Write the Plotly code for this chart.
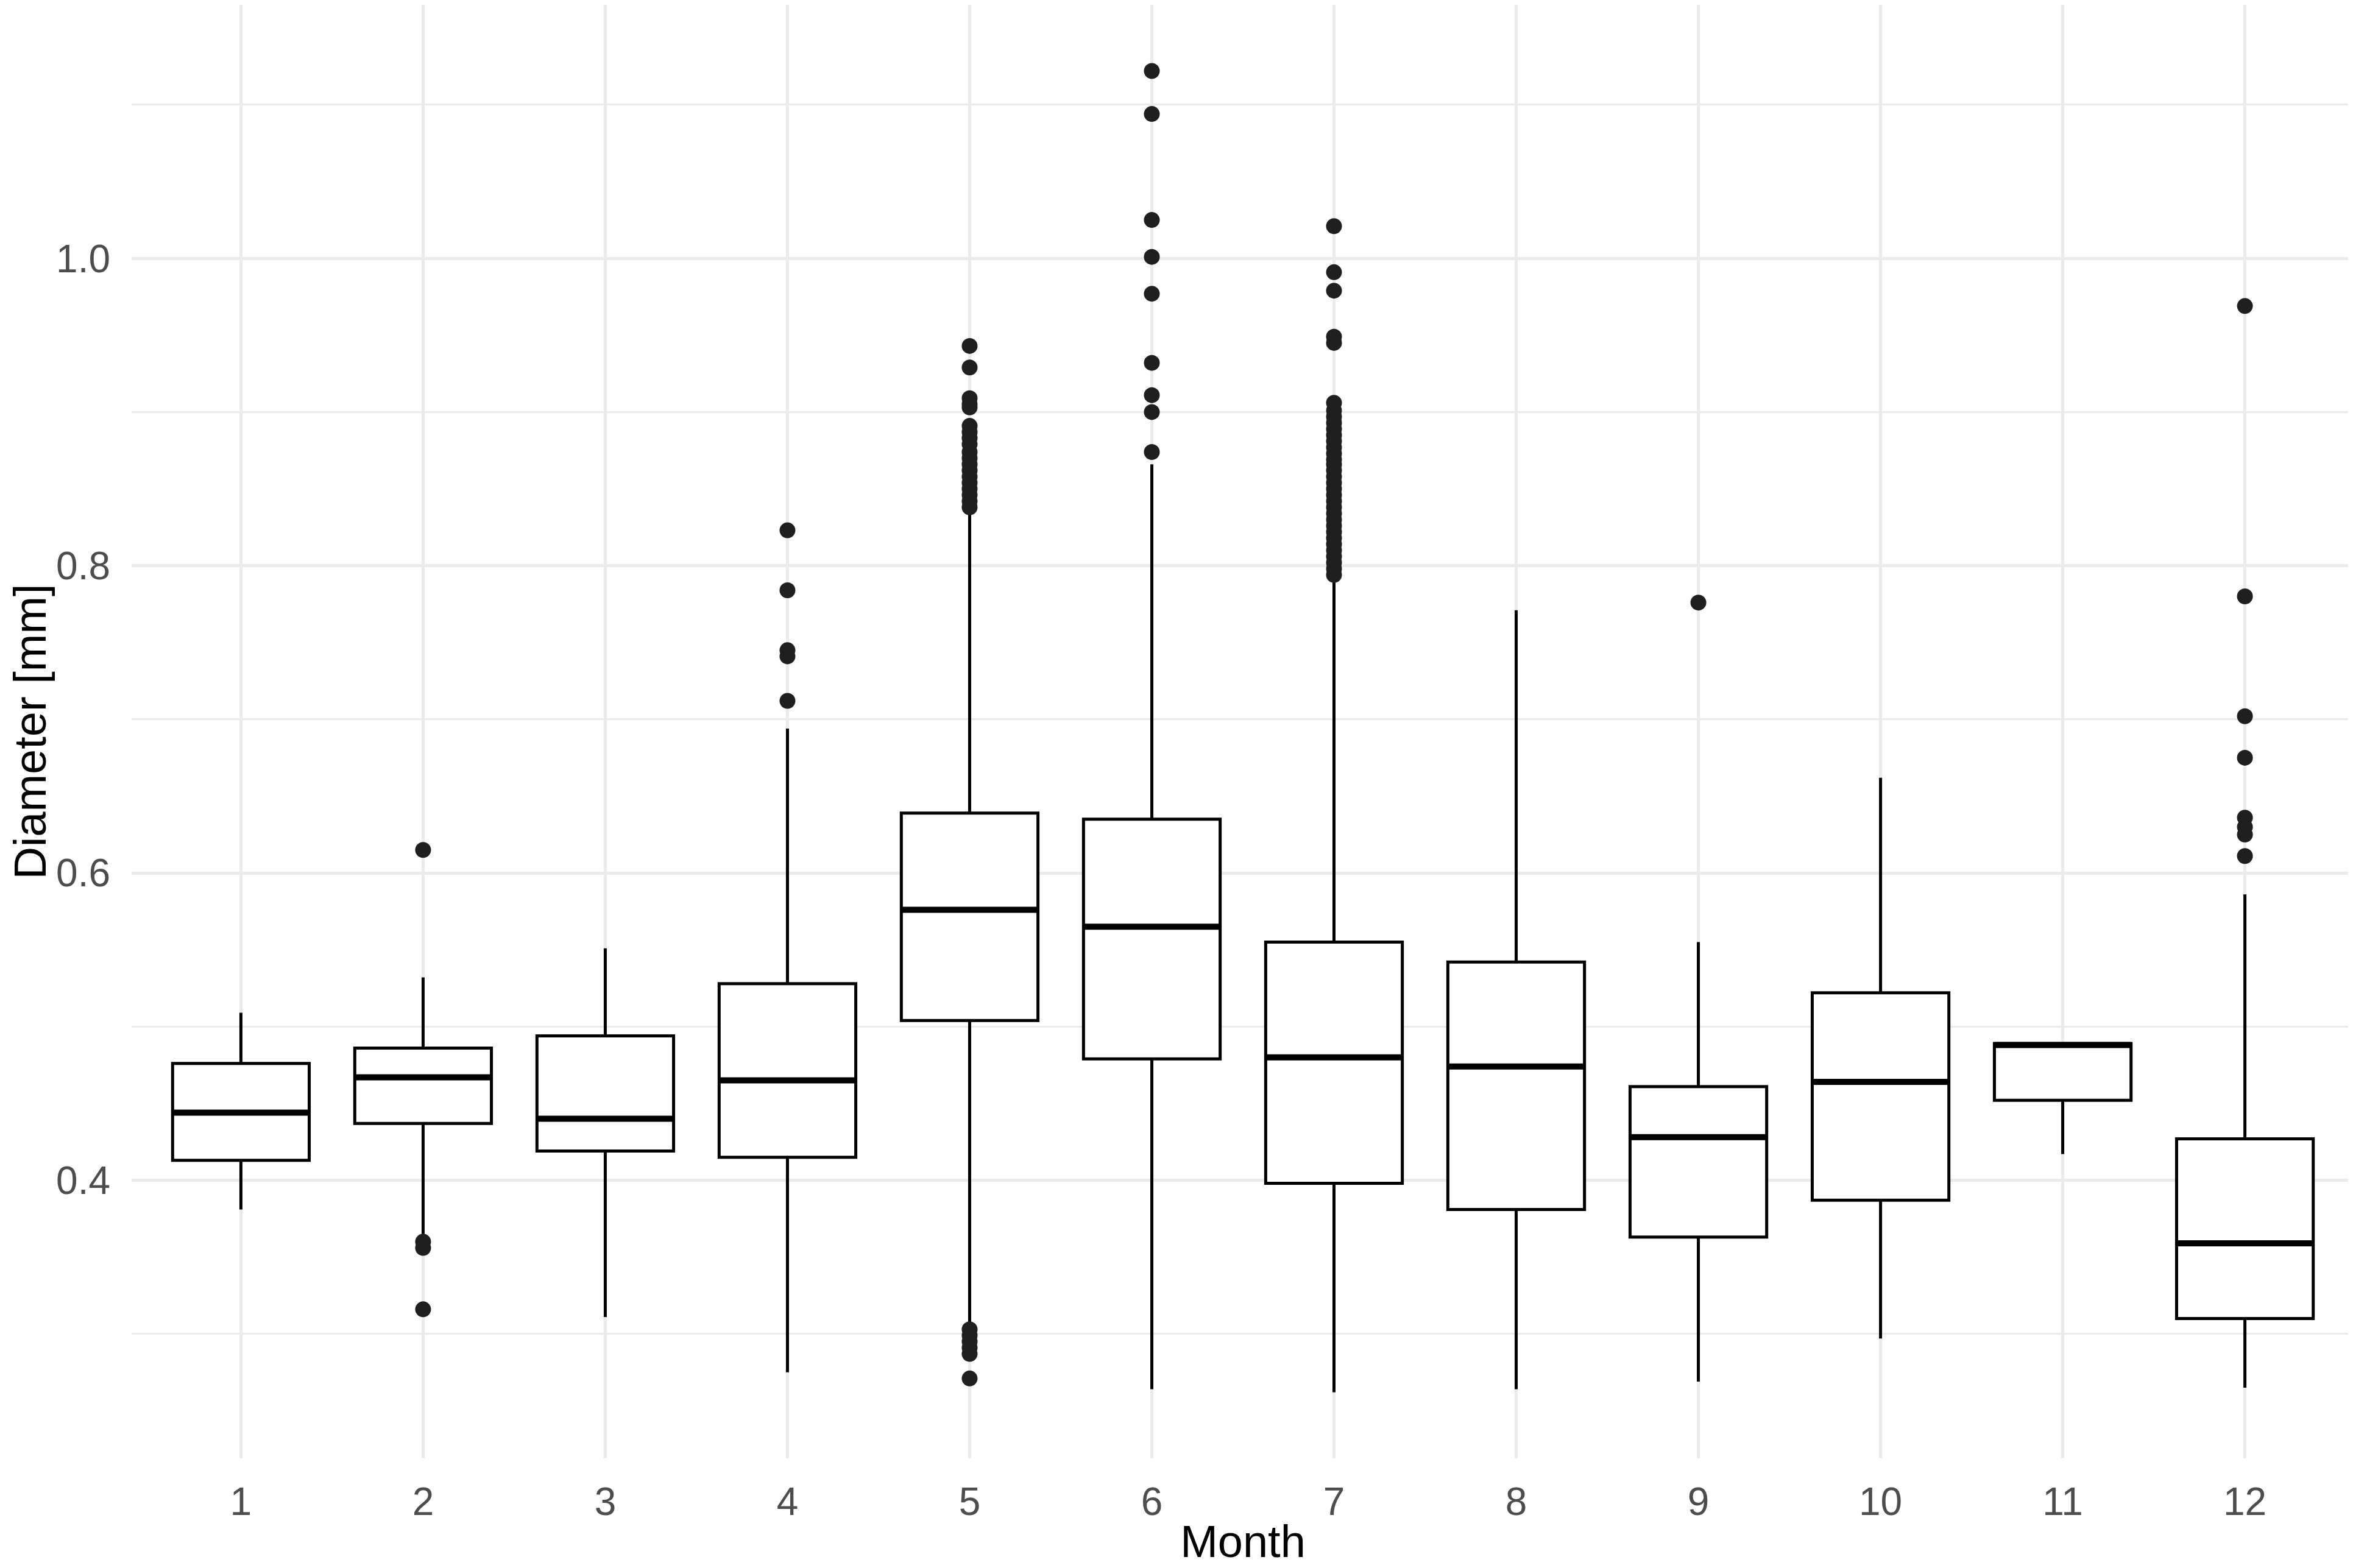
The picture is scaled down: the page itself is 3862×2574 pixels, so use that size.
import plotly.graph_objects as go

# Box statistics per month.
months = [1, 2, 3, 4, 5, 6, 7, 8, 9, 10, 11, 12]
lower_whisker = [0.381, 0.365, 0.311, 0.275, 0.307, 0.264, 0.262, 0.264, 0.269, 0.297, 0.417, 0.265]
q1 = [0.413, 0.437, 0.419, 0.415, 0.504, 0.479, 0.398, 0.381, 0.363, 0.387, 0.452, 0.310]
median = [0.444, 0.467, 0.440, 0.465, 0.576, 0.565, 0.480, 0.474, 0.428, 0.464, 0.488, 0.359]
q3 = [0.476, 0.486, 0.494, 0.528, 0.639, 0.635, 0.555, 0.542, 0.461, 0.522, 0.489, 0.427]
upper_whisker = [0.509, 0.532, 0.551, 0.694, 0.836, 0.866, 0.790, 0.771, 0.555, 0.662, 0.489, 0.586]

# Outliers per month.
outliers = {
    2: [0.615, 0.360, 0.356, 0.316],
    4: [0.823, 0.784, 0.745, 0.741, 0.712],
    5: [0.943, 0.929, 0.909, 0.905, 0.903, 0.891, 0.887, 0.883, 0.879, 0.874,
        0.870, 0.866, 0.862, 0.858, 0.854, 0.850, 0.846, 0.842, 0.838,
        0.303, 0.299, 0.295, 0.291, 0.287, 0.271],
    6: [1.122, 1.094, 1.025, 1.001, 0.977, 0.932, 0.911, 0.900, 0.874],
    7: [1.021, 0.991, 0.979, 0.949, 0.945, 0.906, 0.901, 0.897, 0.893, 0.889,
        0.885, 0.881, 0.877, 0.873, 0.869, 0.866, 0.862, 0.858, 0.854, 0.850,
        0.846, 0.842, 0.838, 0.834, 0.830, 0.826, 0.822, 0.818, 0.814, 0.810,
        0.806, 0.802, 0.798, 0.794],
    9: [0.776],
    12: [0.969, 0.780, 0.702, 0.675, 0.636, 0.630, 0.625, 0.611],
}

box_width = 0.75
font = "Liberation Sans, Arial, sans-serif"
grid = "#EBEBEB"

fig = go.Figure()

# The boxes themselves.
fig.add_trace(go.Box(
    x=months, q1=q1, median=median, q3=q3,
    lowerfence=lower_whisker, upperfence=upper_whisker,
    boxpoints=False, width=box_width, whiskerwidth=0,
    fillcolor="white", line=dict(color="black", width=5),
    showlegend=False,
))

# Thicker median lines, like ggplot.
med_x, med_y = [], []
for m, md in zip(months, median):
    med_x += [m - box_width / 2, m + box_width / 2, None]
    med_y += [md, md, None]
fig.add_trace(go.Scatter(
    x=med_x, y=med_y, mode="lines",
    line=dict(color="black", width=10), showlegend=False, hoverinfo="skip",
))

# Outlier points.
out_x, out_y = [], []
for m, vals in outliers.items():
    out_x += [m] * len(vals)
    out_y += vals
fig.add_trace(go.Scatter(
    x=out_x, y=out_y, mode="markers",
    marker=dict(color="#1f1f1f", size=26, line=dict(width=0)),
    showlegend=False,
))

fig.update_layout(
    width=3862, height=2574,
    margin=dict(l=208, r=6, t=0, b=188),
    plot_bgcolor="white", paper_bgcolor="white",
    font=dict(family=font),
)
fig.update_xaxes(
    range=[0.4, 12.6], tickvals=months, ticktext=[str(m) for m in months],
    showgrid=True, gridcolor=grid, gridwidth=5, zeroline=False,
    showline=False, ticks="", ticklabelstandoff=28,
    tickfont=dict(size=64, color="#4D4D4D"),
    title=dict(text="Month", font=dict(size=74, color="black"), standoff=4),
)
fig.update_yaxes(
    range=[0.219, 1.165], tickvals=[0.4, 0.6, 0.8, 1.0], tickformat=".1f",
    showgrid=True, gridcolor=grid, gridwidth=5, zeroline=False,
    showline=False, ticks="", ticklabelstandoff=34,
    tickfont=dict(size=64, color="#4D4D4D"),
    minor=dict(tickvals=[0.3, 0.5, 0.7, 0.9, 1.1], showgrid=True,
               gridcolor=grid, gridwidth=3),
    title=dict(text="Diameter [mm]", font=dict(size=74, color="black"), standoff=22),
)

fig.write_html("out.html")
